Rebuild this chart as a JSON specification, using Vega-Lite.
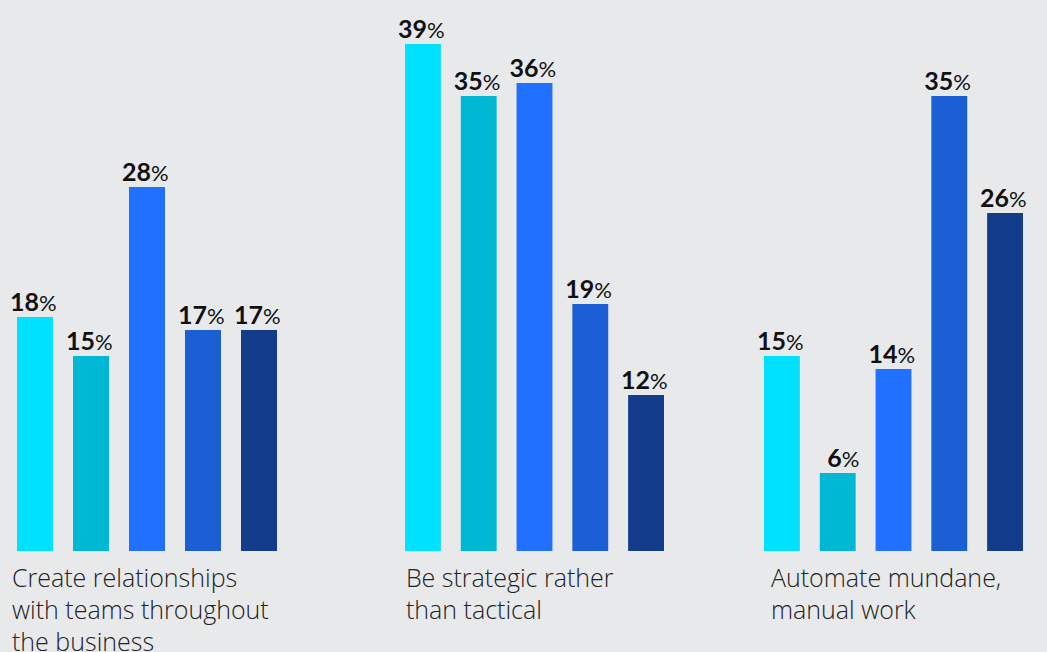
{
  "$schema": "https://vega.github.io/schema/vega-lite/v6.json",
  "background": "#e8e9eb",
  "padding": {"left": 10, "top": 5, "right": 20, "bottom": 0},
  "spacing": 0,
  "bounds": "flush",
  "config": {"view": {"stroke": null}, "font": "Lato"},
  "data": {"values": [
    {"group": "A", "item": "1", "value": 18},
    {"group": "A", "item": "2", "value": 15},
    {"group": "A", "item": "3", "value": 28},
    {"group": "A", "item": "4", "value": 17},
    {"group": "A", "item": "5", "value": 17},
    {"group": "B", "item": "1", "value": 39},
    {"group": "B", "item": "2", "value": 35},
    {"group": "B", "item": "3", "value": 36},
    {"group": "B", "item": "4", "value": 19},
    {"group": "B", "item": "5", "value": 12},
    {"group": "C", "item": "1", "value": 15},
    {"group": "C", "item": "2", "value": 6},
    {"group": "C", "item": "3", "value": 14},
    {"group": "C", "item": "4", "value": 35},
    {"group": "C", "item": "5", "value": 26}
  ]},
  "hconcat": [
    {
      "width": 388, "height": 546,
      "transform": [{"filter": "datum.group === 'A'"}],
      "title": {"text": ["Create relationships", "with teams throughout", "the business"], "orient": "bottom", "anchor": "start", "baseline": "top", "offset": 16, "dx": 2, "fontSize": 25, "fontWeight": 300, "color": "#222222", "lineHeight": 32, "font": "Open Sans"},
      "encoding": {
        "x": {"field": "item", "type": "nominal", "axis": null, "scale": {"range": [0, 260], "paddingInner": 0.357, "paddingOuter": 0}},
        "y": {"field": "value", "type": "quantitative", "axis": null, "scale": {"domain": [0, 42], "nice": false}}
      },
      "layer": [
        {"mark": {"type": "bar"}, "encoding": {"color": {"field": "item", "type": "nominal", "legend": null, "scale": {"range": ["#00e1ff", "#00b8d3", "#2270ff", "#1c5ed3", "#133c8a"]}}}},
        {"mark": {"type": "text", "align": "right", "baseline": "alphabetic", "dx": 4, "dy": -6, "fontSize": 25, "fontWeight": "bold", "color": "#111111"}, "encoding": {"text": {"field": "value"}}},
        {"mark": {"type": "text", "align": "left", "baseline": "alphabetic", "dx": 4, "dy": -6, "fontSize": 22, "fontWeight": "normal", "color": "#111111"}, "encoding": {"text": {"value": "%"}}}
      ]
    },
    {
      "width": 359, "height": 546,
      "transform": [{"filter": "datum.group === 'B'"}],
      "title": {"text": ["Be strategic rather", "than tactical"], "orient": "bottom", "anchor": "start", "baseline": "top", "offset": 16, "dx": 8, "fontSize": 25, "fontWeight": 300, "color": "#222222", "lineHeight": 32, "font": "Open Sans"},
      "encoding": {
        "x": {"field": "item", "type": "nominal", "axis": null, "scale": {"range": [0, 259], "paddingInner": 0.357, "paddingOuter": 0}},
        "y": {"field": "value", "type": "quantitative", "axis": null, "scale": {"domain": [0, 42], "nice": false}}
      },
      "layer": [
        {"mark": {"type": "bar"}, "encoding": {"color": {"field": "item", "type": "nominal", "legend": null, "scale": {"range": ["#00e1ff", "#00b8d3", "#2270ff", "#1c5ed3", "#133c8a"]}}}},
        {"mark": {"type": "text", "align": "right", "baseline": "alphabetic", "dx": 4, "dy": -6, "fontSize": 25, "fontWeight": "bold", "color": "#111111"}, "encoding": {"text": {"field": "value"}}},
        {"mark": {"type": "text", "align": "left", "baseline": "alphabetic", "dx": 4, "dy": -6, "fontSize": 22, "fontWeight": "normal", "color": "#111111"}, "encoding": {"text": {"value": "%"}}}
      ]
    },
    {
      "width": 260, "height": 546,
      "transform": [{"filter": "datum.group === 'C'"}],
      "title": {"text": ["Automate mundane,", "manual work"], "orient": "bottom", "anchor": "start", "baseline": "top", "offset": 16, "dx": 14, "fontSize": 25, "fontWeight": 300, "color": "#222222", "lineHeight": 32, "font": "Open Sans"},
      "encoding": {
        "x": {"field": "item", "type": "nominal", "axis": null, "scale": {"range": [0, 259], "paddingInner": 0.357, "paddingOuter": 0}},
        "y": {"field": "value", "type": "quantitative", "axis": null, "scale": {"domain": [0, 42], "nice": false}}
      },
      "layer": [
        {"mark": {"type": "bar"}, "encoding": {"color": {"field": "item", "type": "nominal", "legend": null, "scale": {"range": ["#00e1ff", "#00b8d3", "#2270ff", "#1c5ed3", "#133c8a"]}}}},
        {"mark": {"type": "text", "align": "right", "baseline": "alphabetic", "dx": 4, "dy": -6, "fontSize": 25, "fontWeight": "bold", "color": "#111111"}, "encoding": {"text": {"field": "value"}}},
        {"mark": {"type": "text", "align": "left", "baseline": "alphabetic", "dx": 4, "dy": -6, "fontSize": 22, "fontWeight": "normal", "color": "#111111"}, "encoding": {"text": {"value": "%"}}}
      ]
    }
  ]
}
